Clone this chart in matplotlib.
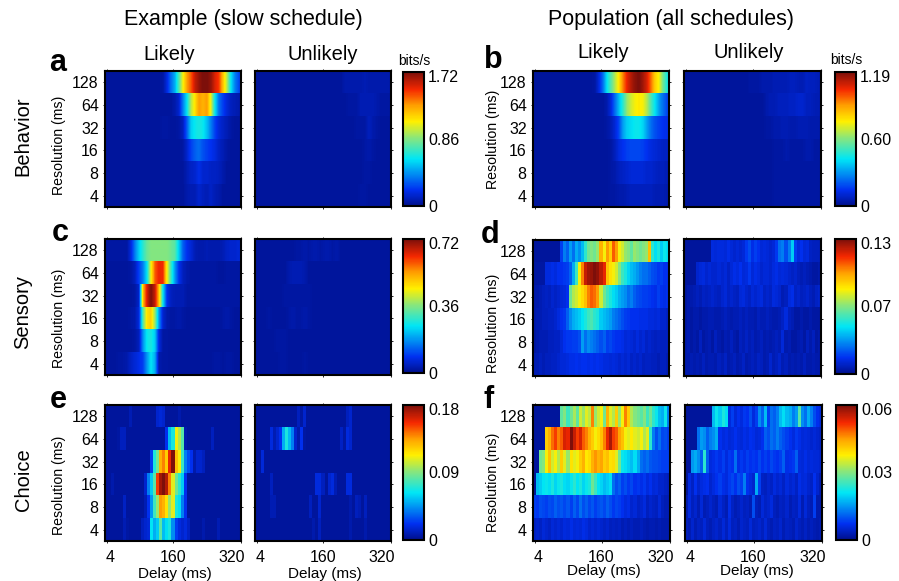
import numpy as np
import matplotlib
matplotlib.use('Agg')
import matplotlib.pyplot as plt
from matplotlib.cm import ScalarMappable
from matplotlib.colors import LinearSegmentedColormap, Normalize
from matplotlib.transforms import ScaledTranslation

plt.rcParams['font.family'] = ['Liberation Sans', 'DejaVu Sans']

# all values are percent of the colorbar maximum, rows go 128 ms -> 4 ms
resolutions = [128, 64, 32, 16, 8, 4]
delay_ticks = [4, 160, 320]

max_a, max_b, max_c, max_d, max_e, max_f = 1.72, 1.19, 0.72, 0.13, 0.18, 0.06
cbar_mid = {'a': '0.86', 'b': '0.60', 'c': '0.36', 'd': '0.07', 'e': '0.09', 'f': '0.03'}

a_likely = [
    [2,2,2,2,2,2,2,2,2,2,2,2,2,2,3,10,20,28,45,62,75,82,92,97,100,100,97,90,85,70,55,35,22,15],
    [2,2,2,2,2,2,2,2,2,2,2,2,2,2,2,2,2,4,8,22,35,55,65,75,72,75,60,35,20,14,9,6,5,4],
    [2,2,2,2,2,2,2,2,2,2,2,2,2,2,3,3,2,2,3,6,18,32,36,38,36,30,22,14,9,7,5,3,2,2],
    [2,2,2,2,2,2,2,2,2,2,2,2,2,2,2,2,2,2,2,3,8,14,18,20,16,14,12,10,7,5,3,2,2,2],
    [2,2,2,2,2,2,2,2,2,2,2,2,2,2,2,2,2,2,2,2,5,7,8,11,8,8,7,7,6,4,2,2,2,2],
    [2,2,2,2,2,2,2,2,2,2,2,2,2,2,2,2,2,2,2,2,4,5,5,8,6,5,7,5,4,2,2,2,2,2],
]
a_unlikely = [
    [2,2,2,2,2,2,2,2,2,2,2,2,2,2,2,2,2,2,2,2,2,2,4,4,4,4,4,5,4,4,4,4,4,4],
    [2,2,2,2,2,2,2,2,2,2,2,2,2,2,2,2,2,2,2,2,2,2,2,3,3,3,5,5,5,5,4,3,3,3],
    [2,2,2,2,2,2,2,2,2,2,2,2,2,2,2,2,2,2,2,2,2,2,2,2,2,3,3,3,6,4,3,2,2,2],
    [2,2,2,2,2,2,2,2,2,2,2,2,2,2,2,2,2,2,2,2,2,2,2,2,2,2,2,3,4,3,2,2,2,2],
    [2,2,2,2,2,2,2,2,2,2,2,2,2,2,2,2,2,2,2,2,2,2,2,2,2,2,2,3,3,2,2,2,2,2],
    [2,2,2,2,2,2,2,2,2,2,2,2,2,2,2,2,2,2,2,2,2,2,2,2,2,2,3,3,2,2,2,2,2,2],
]
b_likely = [
    [2,2,2,2,2,2,2,2,2,2,2,2,2,2,2,3,10,20,35,45,55,65,78,88,94,98,100,96,90,80,68,62,48,38],
    [2,2,2,2,2,2,2,2,2,2,2,2,2,2,2,2,2,2,4,10,20,30,40,52,58,62,64,62,55,44,35,26,20,15],
    [2,2,2,2,2,2,2,2,2,2,2,2,2,2,2,2,2,2,3,5,9,15,26,32,34,36,36,33,26,20,16,14,12,11],
    [2,2,2,2,2,2,2,2,2,2,2,2,2,2,2,2,2,2,2,3,6,10,12,14,15,15,15,14,12,10,9,8,7,7],
    [2,2,2,2,2,2,2,2,2,2,2,2,2,2,2,2,2,2,2,3,4,6,7,8,9,9,9,9,8,8,7,6,6,5],
    [2,2,2,2,2,2,2,2,2,2,2,2,2,2,2,2,2,2,2,3,3,4,4,5,6,6,6,6,6,6,5,5,5,4],
]
b_unlikely = [
    [2,2,2,2,2,2,2,2,2,2,2,2,2,2,2,2,3,3,3,4,4,4,5,5,5,5,6,6,5,5,7,6,6,5],
    [2,2,2,2,2,2,2,2,2,2,2,2,2,2,2,2,2,2,2,2,4,5,5,6,6,6,7,7,8,8,6,6,5,5],
    [2,2,2,2,2,2,2,2,2,2,2,2,2,2,2,2,2,2,2,2,3,3,4,4,5,5,4,4,5,5,5,4,4,4],
    [2,2,2,2,2,2,2,2,2,2,2,2,2,2,2,2,2,2,2,2,2,2,3,3,3,4,3,3,3,3,4,4,3,3],
    [2,2,2,2,2,2,2,2,2,2,2,2,2,2,2,2,2,2,2,2,2,2,3,3,3,3,3,3,3,3,3,3,3,3],
    [2,2,2,2,2,2,2,2,2,2,2,2,2,2,2,2,2,2,2,2,2,2,3,3,3,3,3,3,3,3,3,3,3,3],
]
c_likely = [
    [3,3,3,3,3,3,10,22,32,40,47,50,50,50,50,50,48,45,32,18,12,9,5,4,4,5,4,4,4,5,7,8,8,9],
    [2,2,2,2,2,2,3,6,14,22,35,62,82,88,87,62,42,25,12,6,4,3,3,3,3,3,3,3,2,2,3,3,3,3],
    [2,2,2,2,2,2,2,3,8,70,90,100,92,70,35,12,6,5,5,5,3,3,3,3,3,3,3,3,3,3,3,3,3,3],
    [2,2,2,2,2,2,3,4,10,45,65,68,52,25,8,4,3,3,4,3,2,2,2,2,2,2,2,2,2,3,4,3,2,2],
    [2,2,2,2,2,2,2,3,6,24,36,38,32,10,3,3,2,2,2,2,2,2,2,2,2,2,2,2,2,2,2,2,2,2],
    [2,2,2,3,3,4,7,9,11,14,25,35,28,4,3,3,2,2,2,2,2,2,2,2,2,2,2,3,3,2,3,3,2,2],
]
c_unlikely = [
    [2,2,2,2,2,2,2,2,2,2,3,3,4,3,4,4,3,4,4,3,4,2,2,2,2,2,2,2,2,2,2,2,2,2],
    [2,2,2,2,2,2,2,2,4,5,5,5,4,2,2,2,2,2,2,2,2,2,2,2,2,2,2,2,2,2,2,2,2,2],
    [2,2,2,2,2,2,2,3,3,3,3,3,3,3,2,2,2,2,2,2,2,2,2,2,2,2,2,2,2,2,2,2,2,2],
    [2,2,2,3,2,2,2,2,3,4,3,3,4,3,2,2,2,2,2,2,2,2,2,2,2,2,2,2,2,2,2,2,2,2],
    [2,2,2,2,2,3,3,3,2,2,2,2,2,2,2,2,2,2,2,2,2,2,2,2,2,2,2,2,2,2,2,2,2,2],
    [2,2,2,2,2,2,3,3,2,2,2,2,3,2,2,2,2,2,2,2,2,2,2,2,2,2,2,2,2,2,2,2,2,2],
]
d_likely = [
    [2,2,2,2,2,2,2,2,2,14,22,18,26,20,28,24,30,40,48,50,48,52,72,62,75,68,82,75,62,58,52,50,46,52,50,48,50,52,70,40,34,38,32,36,34],
    [3,3,3,3,10,10,11,10,12,12,13,14,18,28,42,62,78,92,96,97,100,98,93,88,70,65,62,58,50,42,38,33,30,28,25,22,20,20,18,16,15,13,14,12,12],
    [4,4,5,6,7,6,8,7,8,9,10,12,48,55,58,62,66,70,78,82,80,75,58,48,42,38,34,32,28,26,24,20,22,18,16,15,14,14,13,12,11,14,12,11,12],
    [4,5,5,6,6,7,7,8,10,12,13,18,24,28,30,32,35,38,42,44,40,38,32,30,28,26,22,20,18,16,14,13,12,12,12,11,11,11,10,10,9,10,8,8,7],
    [3,4,5,5,5,6,6,7,7,9,12,13,13,14,14,16,26,20,24,22,20,18,16,18,14,15,13,12,12,11,9,10,9,8,10,8,9,7,8,7,6,7,6,6,6],
    [5,5,6,5,6,6,7,7,8,9,9,10,11,11,12,11,12,12,11,12,11,12,11,10,10,9,10,9,8,9,8,9,7,8,7,8,6,7,7,6,6,5,6,6,5],
]
d_unlikely = [
    [2,2,2,2,2,2,2,2,2,10,9,10,10,9,11,9,8,9,8,9,13,16,11,14,12,9,10,9,8,9,13,20,22,16,22,32,14,10,12,9,10,7,6,6,6],
    [2,2,2,2,8,9,10,8,9,8,8,9,8,9,7,9,11,10,12,9,10,13,9,11,10,8,9,9,8,10,11,9,10,9,8,7,8,6,5,6,5,4,3,3,4],
    [3,4,4,5,6,5,7,6,7,8,7,6,8,9,7,8,7,6,9,10,8,7,9,8,9,10,7,8,7,10,9,8,5,6,10,11,7,8,6,7,8,6,5,7,8],
    [3,4,3,4,4,3,4,4,5,5,4,4,5,6,5,4,5,5,6,5,6,5,5,4,6,5,5,6,5,4,4,5,7,10,6,5,3,3,4,3,3,4,3,3,3],
    [4,5,3,4,3,6,3,4,5,3,6,4,3,5,4,6,4,3,6,5,7,5,6,4,5,6,4,5,4,5,6,5,9,4,5,3,3,4,5,3,6,4,6,3,4],
    [4,4,5,4,5,4,6,4,5,5,4,6,5,7,4,5,6,4,5,7,4,5,6,5,7,6,4,5,8,5,6,8,5,6,4,5,4,5,4,6,4,4,5,4,4],
]
e_likely = [
    [2,2,2,2,2,2,2,2,5,2,2,2,2,2,2,2,2,8,9,8,2,2,2,2,4,2,2,2,2,2,2,2,2,2,2,2,2,2,2,2,2,2,2,2,2],
    [2,2,2,2,3,6,6,2,2,2,2,2,2,2,2,2,2,2,2,2,12,30,38,62,55,45,4,2,2,2,2,2,2,2,2,6,2,2,2,2,2,2,2,2,2],
    [2,2,2,2,2,2,2,2,2,2,2,2,2,2,2,14,38,48,72,78,68,88,100,70,62,42,22,16,12,4,8,8,6,2,2,2,2,2,2,2,2,2,2,2,2],
    [2,2,4,2,2,2,2,2,2,2,2,2,2,8,22,32,45,85,96,100,94,78,60,48,40,32,12,2,2,2,2,2,2,2,2,2,2,2,2,2,2,2,2,2,2],
    [2,2,2,2,2,2,7,2,2,2,2,2,2,5,12,25,42,52,75,72,65,52,60,38,34,22,12,2,2,2,2,2,2,2,2,2,2,2,2,2,2,2,2,2,2],
    [2,2,2,2,2,2,5,3,2,2,2,2,6,8,9,35,28,32,46,30,34,38,24,14,10,8,10,7,2,2,2,2,4,2,2,2,2,5,2,2,2,2,2,2,2],
]
e_unlikely = [
    [2,2,2,2,2,2,2,2,2,2,2,2,2,2,6,3,8,2,2,2,2,2,2,2,2,2,2,2,2,2,6,8,2,2,2,2,2,2,2,2,2,2,2,2,2],
    [2,2,2,2,2,10,5,8,12,28,38,30,22,8,4,12,3,2,2,2,2,2,2,2,2,2,2,2,7,3,10,8,2,2,2,2,2,2,2,2,2,2,2,2,2],
    [2,2,9,2,2,2,2,2,2,2,2,2,2,2,2,2,2,2,2,2,2,2,2,2,2,2,2,2,2,2,2,2,2,2,2,2,2,2,2,2,2,2,2,2,2],
    [2,2,2,2,2,6,2,2,2,2,2,2,2,2,2,2,2,2,2,2,10,10,6,2,8,10,5,2,2,2,10,10,2,2,2,2,2,2,2,2,2,2,2,2,2],
    [2,2,2,2,2,5,5,2,2,2,2,2,2,2,2,2,2,2,6,2,2,8,2,2,2,2,2,2,2,2,2,4,2,6,5,2,6,2,2,2,2,2,2,2,2],
    [2,2,2,2,2,2,2,2,2,2,2,2,2,2,2,2,2,2,2,4,2,6,2,2,2,2,2,2,2,2,2,4,2,2,2,2,4,2,2,2,2,2,2,2,2],
]
f_likely = [
    [2,2,2,2,2,2,2,2,2,46,50,42,48,54,46,58,52,60,56,78,52,58,62,48,72,60,55,68,52,62,78,68,55,50,48,45,50,42,48,40,36,30,28,36,22],
    [2,2,2,2,68,72,80,85,78,82,90,88,100,92,85,90,82,78,72,68,62,66,70,78,88,95,85,82,74,70,62,60,64,60,58,62,55,60,40,22,16,20,15,16,14],
    [2,2,48,50,62,70,58,62,55,68,60,52,65,60,62,68,72,64,66,72,76,72,74,68,70,65,66,60,48,36,34,32,30,34,28,20,18,20,17,16,16,15,14,14,14],
    [2,30,32,35,36,34,38,33,36,38,34,33,36,40,35,38,33,36,38,48,42,35,33,30,32,34,20,16,18,14,16,13,15,12,13,11,13,10,12,9,10,8,8,7,6],
    [14,13,16,15,14,16,15,18,16,17,15,17,14,18,15,20,16,18,15,17,14,16,17,15,18,16,13,15,14,12,10,11,8,9,7,8,10,6,8,7,6,9,6,5,5],
    [7,8,7,9,8,7,9,8,9,8,10,9,11,9,10,9,11,10,8,9,8,9,8,7,8,6,7,6,7,5,6,5,6,5,5,6,5,4,5,5,4,5,4,4,4],
]
f_unlikely = [
    [2,2,2,2,2,2,2,2,2,30,36,32,38,34,10,14,9,12,10,13,12,16,10,14,24,18,30,14,20,18,22,30,34,30,28,22,26,45,24,20,28,22,16,12,10],
    [2,2,2,2,20,26,24,18,22,24,28,12,10,11,9,10,12,10,9,11,10,12,11,9,10,12,18,16,20,18,22,18,16,14,12,10,13,11,9,10,9,8,9,8,7],
    [2,2,25,28,24,18,40,18,10,11,13,11,14,10,13,12,20,11,13,11,14,12,13,12,15,12,14,12,15,13,12,14,18,11,12,13,18,10,9,11,9,10,9,9,8],
    [2,10,7,12,8,10,11,12,8,10,12,14,11,10,13,15,12,16,14,22,12,10,8,28,14,7,6,8,7,10,8,9,7,10,8,9,7,11,9,10,8,7,12,8,5],
    [5,10,6,8,5,9,5,6,8,6,5,9,7,5,11,7,5,6,8,6,7,5,16,6,5,9,7,8,10,6,5,7,6,8,5,7,6,10,5,9,6,5,14,4,4],
    [6,5,8,5,7,6,9,6,5,7,8,6,9,6,10,6,7,5,8,7,6,9,6,7,8,6,9,6,5,7,6,8,5,7,6,5,8,6,5,7,5,6,5,4,5],
]

# jet as it looks in the print version, a bit softer than matplotlib's
soft_jet = LinearSegmentedColormap.from_list('soft_jet', [
    (0.00, '#00108c'), (0.12, '#0030f0'), (0.35, '#00e6f5'), (0.50, '#82e682'),
    (0.63, '#fff000'), (0.75, '#ffa000'), (0.87, '#f52800'), (1.00, '#7d0f0a'),
])

W, H = 899, 581
fig = plt.figure(figsize=(W / 100, H / 100), dpi=100)


def px_axes(x0, y0, x1, y1):
    return fig.add_axes([x0 / W, 1 - y1 / H, (x1 - x0) / W, (y1 - y0) / H])


def px_text(x, y, s, **kw):
    kw.setdefault('ha', 'center')
    kw.setdefault('va', 'center')
    fig.text(x / W, 1 - y / H, s, **kw)


def heat_panel(box, rows, vmax, interp, left=False, bottom=False, ylab_xy=None, xlab_xy=None):
    ax = px_axes(*box)
    n = len(rows)
    for i, row in enumerate(rows):
        vals = np.array(row, dtype=float)[None, :] / 100 * vmax
        ax.imshow(vals, cmap=soft_jet, vmin=0, vmax=vmax, aspect='auto',
                  interpolation=interp, extent=[0, 320, n - i - 1, n - i])
    ax.set_xlim(0, 320)
    ax.set_ylim(0, n)
    ax.set_xticks(delay_ticks)
    ax.set_yticks(np.arange(n) + 0.5)
    ax.set_yticklabels(resolutions[::-1] if left else [])
    ax.set_xticklabels(delay_ticks if bottom else [])
    ax.tick_params(direction='out', length=1.5, width=0.6, top=True, right=True,
                   labelsize=11.5, pad=3)
    ax.tick_params(axis='x', pad=5)
    for sp in ax.spines.values():
        sp.set_linewidth(1.5)
    if bottom:
        labs = ax.get_xticklabels()
        labs[0].set_transform(labs[0].get_transform() + ScaledTranslation(0.03, 0, fig.dpi_scale_trans))
        labs[2].set_transform(labs[2].get_transform() + ScaledTranslation(-0.09, 0, fig.dpi_scale_trans))
        ax.set_xlabel('Delay (ms)', fontsize=11)
        ax.xaxis.set_label_coords((xlab_xy[0] - box[0]) / 136, (box[3] - xlab_xy[1]) / 136)
    if left:
        ax.set_ylabel('Resolution (ms)', fontsize=10.2)
        ax.yaxis.set_label_coords((ylab_xy[0] - box[0]) / 136, (box[3] - ylab_xy[1]) / 136)
    return ax


def cbar_panel(box, vmax, key):
    cax = px_axes(*box)
    cb = fig.colorbar(ScalarMappable(Normalize(0, vmax), cmap=soft_jet), cax=cax)
    cb.set_ticks([0, vmax / 2, vmax * 0.97])
    cb.set_ticklabels(['0', cbar_mid[key], f'{vmax:.2f}'])
    cb.ax.tick_params(length=0, labelsize=11.5, pad=3)
    cb.outline.set_linewidth(1.5)


# row 1
heat_panel((105, 71, 241, 207), a_likely, max_a, 'bilinear', left=True, ylab_xy=(66, 145))
heat_panel((255, 71, 391, 207), a_unlikely, max_a, 'bilinear')
cbar_panel((403, 72, 424, 206), max_a, 'a')
heat_panel((533, 71, 669, 207), b_likely, max_b, 'bilinear', left=True, ylab_xy=(500, 139))
heat_panel((684, 71, 821, 207), b_unlikely, max_b, 'bilinear')
cbar_panel((835, 72, 856, 206), max_b, 'b')

# row 2
heat_panel((105, 239, 241, 375), c_likely, max_c, 'bilinear', left=True, ylab_xy=(66, 318))
heat_panel((255, 239, 391, 375), c_unlikely, max_c, 'bilinear')
cbar_panel((403, 239, 424, 373), max_c, 'c')
heat_panel((533, 240, 669, 376), d_likely, max_d, 'nearest', left=True, ylab_xy=(500, 323))
heat_panel((684, 239, 821, 376), d_unlikely, max_d, 'nearest')
cbar_panel((835, 239, 856, 374), max_d, 'd')

# row 3
heat_panel((105, 405, 241, 541), e_likely, max_e, 'nearest', left=True, bottom=True,
           ylab_xy=(66, 485), xlab_xy=(175, 567))
heat_panel((255, 405, 391, 541), e_unlikely, max_e, 'nearest', bottom=True, xlab_xy=(325, 567))
cbar_panel((403, 405, 424, 540), max_e, 'e')
heat_panel((533, 405, 670, 541), f_likely, max_f, 'nearest', left=True, bottom=True,
           ylab_xy=(500, 482), xlab_xy=(603, 564))
heat_panel((685, 405, 822, 541), f_unlikely, max_f, 'nearest', bottom=True, xlab_xy=(756, 564))
cbar_panel((836, 405, 857, 540), max_f, 'f')

# headings
px_text(243, 20, 'Example (slow schedule)', fontsize=15.5)
px_text(671, 20, 'Population (all schedules)', fontsize=15.5)
px_text(169, 54, 'Likely', fontsize=14.5)
px_text(323, 55, 'Unlikely', fontsize=14.5)
px_text(603, 52, 'Likely', fontsize=14.5)
px_text(749, 52, 'Unlikely', fontsize=14.5)
px_text(414, 61, 'bits/s', fontsize=10)
px_text(846, 60, 'bits/s', fontsize=10)
for y, s in zip([136, 312, 480], ['Behavior', 'Sensory', 'Choice']):
    px_text(23, y, s, fontsize=14.5, rotation=90)
for x, y, s in [(58, 71, 'a'), (493, 68, 'b'), (60, 241, 'c'), (490, 243, 'd'), (58, 408, 'e'), (489, 408, 'f')]:
    px_text(x, y, s, fontsize=22, fontweight='bold', va='baseline')

fig.savefig('out.png', dpi=100)
